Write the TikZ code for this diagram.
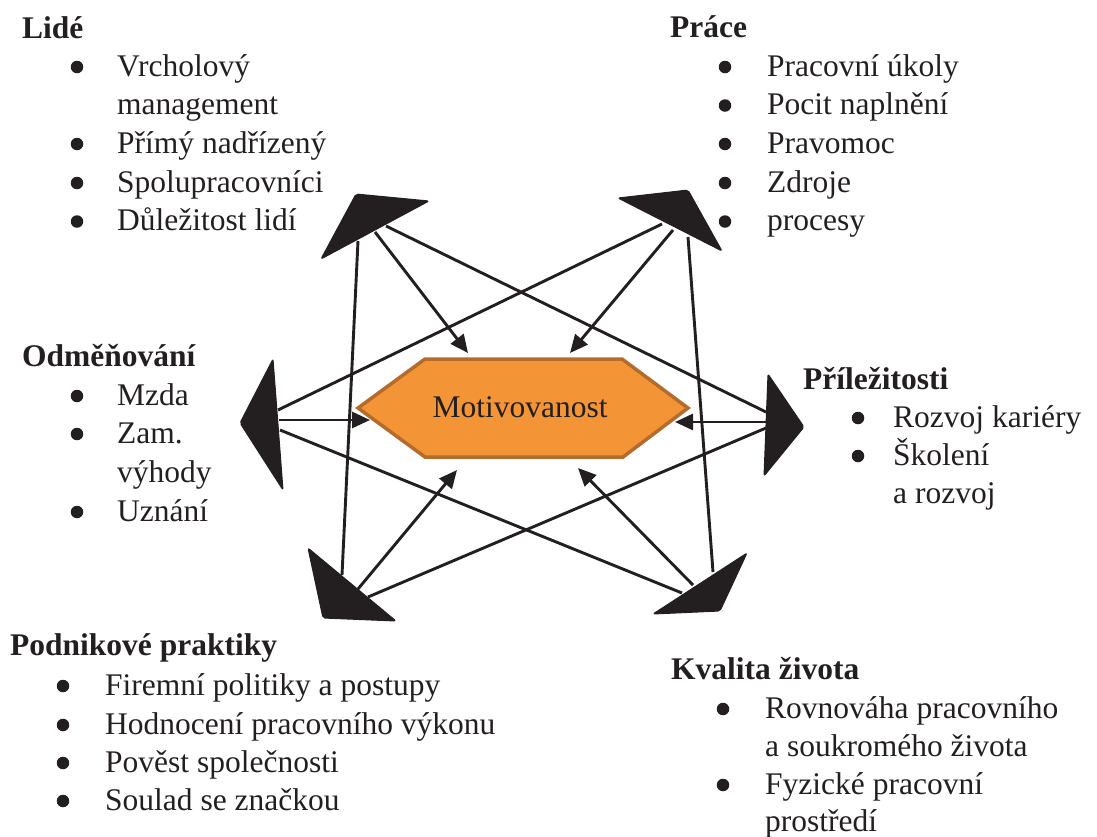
\documentclass[tikz,border=0pt]{standalone}
\usepackage{fontspec}
\setmainfont{Liberation Serif}
\usetikzlibrary{arrows.meta}
\definecolor{ink}{HTML}{231F20}
\definecolor{hexfill}{HTML}{F39537}
\definecolor{hexline}{HTML}{B56B2C}

\begin{document}
\begin{tikzpicture}[x=1pt,y=-1pt,
  txt/.style={anchor=base west, inner sep=0pt, text=ink,
              font=\fontsize{31.5}{39}\selectfont},
  head/.style={txt, font=\fontsize{31.5}{39}\selectfont\bfseries},
  dot/.style={circle, fill=ink, minimum size=12.5pt, inner sep=0pt},
  link/.style={draw=ink, line width=2.9pt},
  arr/.style={link, -{Triangle[length=18pt,width=16pt]}},
  wedge/.style={fill=ink, draw=ink, line width=1pt, rounded corners=2pt, line join=round},
  hexa/.style={draw=hexline, fill=hexfill, line width=3.5pt, line join=miter}
]
\useasboundingbox (0,0) rectangle (1097,836);

% ---------- central hexagon ----------
\draw[hexa] (358,408) -- (425,359) -- (622,359) -- (688,408) -- (623,457) -- (425,457) -- cycle;
\node[anchor=base, inner sep=0pt, text=ink, font=\fontsize{31.5}{39}\selectfont]
  (core) at (520,417) {Motivovanost};

% arrow targets on the hexagon
\coordinate (coreTL) at (468,353);
\coordinate (coreTR) at (570,353);
\coordinate (coreL)  at (370,420);
\coordinate (coreR)  at (675,422);
\coordinate (coreBL) at (457,470);
\coordinate (coreBR) at (578,468);

% ---------- ports on the six wedges ----------
% Lide (top left)
\coordinate (lideA) at (358,241);
\coordinate (lideB) at (375,232);
\coordinate (lideC) at (386,226);
% Prace (top right)
\coordinate (praceA) at (662,224);
\coordinate (praceB) at (673,230);
\coordinate (praceC) at (688,237);
% Odmenovani (left)
\coordinate (odmA) at (278,410);
\coordinate (odmB) at (279,420);
\coordinate (odmC) at (280,430);
% Prilezitosti (right)
\coordinate (priA) at (766,412);
\coordinate (priB) at (766,422);
\coordinate (priC) at (766,428);
% Podnikove praktiky (bottom left)
\coordinate (podA) at (342,575);
\coordinate (podB) at (358,589);
\coordinate (podC) at (368,597);
% Kvalita zivota (bottom right)
\coordinate (kvaA) at (713,572);
\coordinate (kvaB) at (693,585);
\coordinate (kvaC) at (682,593);

% ---------- cross links ----------
\draw[link] (lideA) -- (podA);
\draw[link] (lideC) -- (priA);
\draw[link] (praceA) -- (odmA);
\draw[link] (praceC) -- (kvaA);
\draw[link] (odmC) -- (kvaC);
\draw[link] (priC) -- (podC);

% ---------- arrows into the hexagon ----------
\draw[arr] (lideB) -- (coreTL);
\draw[arr] (praceB) -- (coreTR);
\draw[arr] (odmB) -- (coreL);
\draw[arr] (priB) -- (coreR);
\draw[arr] (podB) -- (coreBL);
\draw[arr] (kvaB) -- (coreBR);

% ---------- wedges ----------
\filldraw[wedge] (356,194) -- (429,201) -- (321,259) -- cycle;
\filldraw[wedge] (618,198) -- (688,190) -- (722,251) -- cycle;
\filldraw[wedge] (273,359) -- (240,423) -- (283,490) -- cycle;
\filldraw[wedge] (768,374) -- (804,427) -- (764,476) -- cycle;
\filldraw[wedge] (308,548) -- (396,621) -- (323,618) -- cycle;
\filldraw[wedge] (747,553) -- (720,611) -- (653,614) -- cycle;

% ---------- Lide ----------
\node[head] (lideH) at (22,38) {Lidé};
\node[dot] (lideD1) at (77,67) {};
\node[txt] (lideT1) at (117,76) {Vrcholový};
\node[txt] (lideT1b) at (117,114.5) {management};
\node[dot] (lideD2) at (77,144) {};
\node[txt] (lideT2) at (117,153) {Přímý nadřízený};
\node[dot] (lideD3) at (77,183) {};
\node[txt] (lideT3) at (117,192) {Spolupracovníci};
\node[dot] (lideD4) at (77,221.5) {};
\node[txt] (lideT4) at (117,230.5) {Důležitost lidí};

% ---------- Prace ----------
\node[head] (praceH) at (670,37) {Práce};
\node[dot] (praceD1) at (725,67) {};
\node[txt] (praceT1) at (767,76) {Pracovní úkoly};
\node[dot] (praceD2) at (725,105.5) {};
\node[txt] (praceT2) at (767,114.5) {Pocit naplnění};
\node[dot] (praceD3) at (725,144) {};
\node[txt] (praceT3) at (767,153) {Pravomoc};
\node[dot] (praceD4) at (725,183) {};
\node[txt] (praceT4) at (767,192) {Zdroje};
\node[dot] (praceD5) at (725,221.5) {};
\node[txt] (praceT5) at (767,230.5) {procesy};

% ---------- Odmenovani ----------
\node[head] (odmH) at (22,366) {Odměňování};
\node[dot] (odmD1) at (77,396) {};
\node[txt] (odmT1) at (117,405) {Mzda};
\node[dot] (odmD2) at (77,434) {};
\node[txt] (odmT2) at (117,443) {Zam.};
\node[txt] (odmT2b) at (117,482) {výhody};
\node[dot] (odmD3) at (77,512) {};
\node[txt] (odmT3) at (117,521) {Uznání};

% ---------- Prilezitosti ----------
\node[head] (priH) at (803,389) {Příležitosti};
\node[dot] (priD1) at (858,418) {};
\node[txt] (priT1) at (893,427) {Rozvoj kariéry};
\node[dot] (priD2) at (858,456) {};
\node[txt] (priT2) at (893,465) {Školení};
\node[txt] (priT2b) at (893,503) {a rozvoj};

% ---------- Podnikove praktiky ----------
\node[head] (podH) at (10,655) {Podnikové praktiky};
\node[dot] (podD1) at (63,686) {};
\node[txt] (podT1) at (105,695) {Firemní politiky a postupy};
\node[dot] (podD2) at (63,725) {};
\node[txt] (podT2) at (105,734) {Hodnocení pracovního výkonu};
\node[dot] (podD3) at (63,763) {};
\node[txt] (podT3) at (105,772) {Pověst společnosti};
\node[dot] (podD4) at (63,801) {};
\node[txt] (podT4) at (105,810) {Soulad se značkou};

% ---------- Kvalita zivota ----------
\node[head] (kvaH) at (671,679) {Kvalita života};
\node[dot] (kvaD1) at (723,709) {};
\node[txt] (kvaT1) at (765,718) {Rovnováha pracovního};
\node[txt] (kvaT1b) at (765,756) {a soukromého života};
\node[dot] (kvaD2) at (723,785) {};
\node[txt] (kvaT2) at (765,794) {Fyzické pracovní};
\node[txt] (kvaT2b) at (765,831) {prostředí};
\end{tikzpicture}
\end{document}
